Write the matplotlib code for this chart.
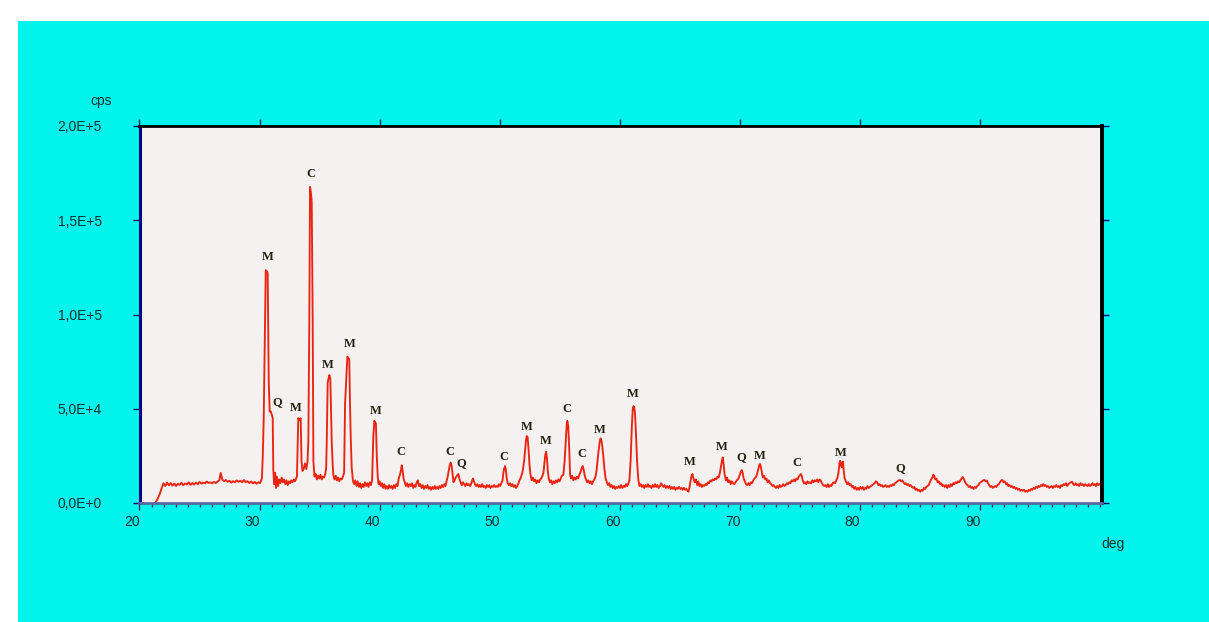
import matplotlib
matplotlib.use("Agg")
import matplotlib.pyplot as plt
from matplotlib.patches import Rectangle
from matplotlib.transforms import ScaledTranslation
import numpy as np

# diffractogram (2theta in deg, intensity in 1000 cps)
two_theta = [
    21.3, 21.5, 21.7, 21.85, 22.0, 22.15, 22.3, 22.45, 22.6, 22.75,
    22.9, 23.05, 23.2, 23.35, 23.5, 23.65, 23.8, 23.95, 24.1, 24.25,
    24.4, 24.55, 24.7, 24.85, 25.0, 25.15, 25.3, 25.45, 25.6, 25.75,
    25.9, 26.05, 26.2, 26.35, 26.5, 26.65, 26.77, 26.9, 27.05, 27.2,
    27.35, 27.5, 27.65, 27.8, 27.95, 28.1, 28.25, 28.4, 28.55, 28.7,
    28.85, 29.0, 29.15, 29.3, 29.45, 29.6, 29.75, 29.9, 30.05, 30.2,
    30.27, 30.35, 30.45, 30.52, 30.6, 30.68, 30.77, 30.85, 30.94, 31.02,
    31.1, 31.15, 31.22, 31.3, 31.38, 31.45, 31.55, 31.65, 31.75, 31.85,
    31.95, 32.05, 32.15, 32.25, 32.35, 32.45, 32.55, 32.65, 32.75, 32.85,
    32.95, 33.05, 33.12, 33.18, 33.23, 33.33, 33.43, 33.5, 33.58, 33.68,
    33.79, 33.9, 34.0, 34.07, 34.15, 34.21, 34.28, 34.35, 34.43, 34.49,
    34.58, 34.68, 34.78, 34.88, 34.98, 35.08, 35.18, 35.28, 35.38, 35.48,
    35.55, 35.6, 35.68, 35.75, 35.82, 35.9, 35.96, 36.02, 36.1, 36.15,
    36.25, 36.35, 36.45, 36.55, 36.65, 36.75, 36.85, 36.95, 37.05, 37.13,
    37.2, 37.27, 37.32, 37.4, 37.48, 37.54, 37.6, 37.68, 37.78, 37.88,
    37.98, 38.08, 38.18, 38.28, 38.38, 38.48, 38.58, 38.68, 38.78, 38.88,
    38.98, 39.08, 39.18, 39.28, 39.38, 39.48, 39.57, 39.63, 39.7, 39.77,
    39.85, 39.92, 40.0, 40.1, 40.2, 40.3, 40.4, 40.5, 40.6, 40.7,
    40.8, 40.9, 41.0, 41.1, 41.2, 41.3, 41.4, 41.5, 41.6, 41.7,
    41.78, 41.85, 41.92, 42.0, 42.1, 42.2, 42.3, 42.4, 42.5, 42.6,
    42.7, 42.8, 42.9, 43.0, 43.1, 43.2, 43.3, 43.4, 43.5, 43.6,
    43.7, 43.8, 43.9, 44.0, 44.1, 44.2, 44.3, 44.4, 44.5, 44.6,
    44.7, 44.8, 44.9, 45.0, 45.1, 45.2, 45.3, 45.4, 45.5, 45.6,
    45.68, 45.76, 45.85, 45.93, 46.0, 46.08, 46.16, 46.25, 46.35, 46.45,
    46.52, 46.57, 46.65, 46.75, 46.85, 46.95, 47.05, 47.15, 47.25, 47.35,
    47.45, 47.55, 47.65, 47.72, 47.79, 47.86, 47.95, 48.05, 48.15, 48.25,
    48.35, 48.45, 48.55, 48.65, 48.75, 48.85, 48.95, 49.05, 49.15, 49.25,
    49.35, 49.45, 49.55, 49.65, 49.75, 49.85, 49.95, 50.05, 50.15, 50.25,
    50.32, 50.38, 50.46, 50.52, 50.6, 50.68, 50.78, 50.88, 50.98, 51.08,
    51.18, 51.28, 51.38, 51.48, 51.58, 51.66, 51.74, 51.82, 51.9, 51.98,
    52.06, 52.14, 52.2, 52.27, 52.34, 52.42, 52.5, 52.58, 52.68, 52.78,
    52.88, 52.98, 53.08, 53.18, 53.28, 53.38, 53.48, 53.58, 53.66, 53.74,
    53.8, 53.88, 53.95, 54.02, 54.1, 54.2, 54.3, 54.4, 54.5, 54.6,
    54.7, 54.8, 54.9, 55.0, 55.1, 55.2, 55.32, 55.42, 55.52, 55.6,
    55.65, 55.72, 55.8, 55.88, 55.96, 56.05, 56.15, 56.25, 56.35, 56.45,
    56.55, 56.65, 56.75, 56.85, 56.93, 57.0, 57.1, 57.2, 57.3, 57.4,
    57.5, 57.6, 57.7, 57.8, 57.9, 58.0, 58.08, 58.16, 58.24, 58.32,
    58.38, 58.43, 58.5, 58.58, 58.66, 58.74, 58.84, 58.94, 59.04, 59.14,
    59.24, 59.34, 59.44, 59.54, 59.64, 59.74, 59.84, 59.94, 60.04, 60.14,
    60.24, 60.34, 60.44, 60.54, 60.64, 60.74, 60.82, 60.92, 61.02, 61.1,
    61.16, 61.21, 61.28, 61.36, 61.46, 61.57, 61.66, 61.76, 61.86, 61.96,
    62.06, 62.16, 62.26, 62.36, 62.46, 62.56, 62.66, 62.76, 62.86, 62.96,
    63.06, 63.16, 63.26, 63.36, 63.46, 63.56, 63.66, 63.76, 63.86, 63.96,
    64.06, 64.16, 64.26, 64.36, 64.46, 64.56, 64.66, 64.76, 64.86, 64.96,
    65.06, 65.16, 65.26, 65.36, 65.46, 65.56, 65.66, 65.74, 65.82, 65.9,
    65.98, 66.08, 66.16, 66.26, 66.36, 66.46, 66.56, 66.66, 66.76, 66.86,
    66.96, 67.06, 67.16, 67.26, 67.36, 67.46, 67.56, 67.66, 67.76, 67.86,
    67.96, 68.06, 68.16, 68.26, 68.36, 68.44, 68.52, 68.6, 68.68, 68.76,
    68.86, 68.96, 69.06, 69.16, 69.26, 69.36, 69.46, 69.56, 69.66, 69.76,
    69.86, 69.94, 70.02, 70.1, 70.18, 70.26, 70.34, 70.44, 70.54, 70.64,
    70.74, 70.84, 70.94, 71.04, 71.14, 71.24, 71.34, 71.44, 71.52, 71.6,
    71.66, 71.71, 71.78, 71.86, 71.94, 72.04, 72.14, 72.24, 72.34, 72.44,
    72.54, 72.64, 72.74, 72.84, 72.94, 73.04, 73.14, 73.24, 73.34, 73.44,
    73.54, 73.64, 73.74, 73.84, 73.94, 74.04, 74.14, 74.24, 74.34, 74.44,
    74.54, 74.64, 74.74, 74.84, 74.92, 75.0, 75.1, 75.18, 75.26, 75.36,
    75.46, 75.56, 75.66, 75.76, 75.86, 75.96, 76.06, 76.16, 76.26, 76.36,
    76.46, 76.56, 76.66, 76.76, 76.86, 76.96, 77.06, 77.16, 77.26, 77.36,
    77.46, 77.56, 77.66, 77.76, 77.86, 77.96, 78.06, 78.16, 78.24, 78.32,
    78.38, 78.44, 78.5, 78.56, 78.62, 78.68, 78.76, 78.86, 78.96, 79.06,
    79.16, 79.26, 79.36, 79.46, 79.56, 79.66, 79.76, 79.86, 79.96, 80.06,
    80.16, 80.26, 80.36, 80.46, 80.56, 80.66, 80.76, 80.86, 80.96, 81.06,
    81.16, 81.26, 81.36, 81.46, 81.56, 81.66, 81.76, 81.86, 81.96, 82.06,
    82.16, 82.26, 82.36, 82.46, 82.56, 82.66, 82.76, 82.86, 82.96, 83.06,
    83.16, 83.26, 83.36, 83.46, 83.56, 83.66, 83.76, 83.86, 83.96, 84.06,
    84.16, 84.26, 84.36, 84.46, 84.56, 84.66, 84.76, 84.86, 84.96, 85.06,
    85.16, 85.26, 85.36, 85.46, 85.56, 85.66, 85.76, 85.86, 85.96, 86.06,
    86.14, 86.22, 86.3, 86.4, 86.5, 86.6, 86.7, 86.8, 86.9, 87.0,
    87.1, 87.2, 87.3, 87.4, 87.5, 87.6, 87.7, 87.8, 87.9, 88.0,
    88.1, 88.2, 88.3, 88.4, 88.5, 88.6, 88.7, 88.8, 88.9, 89.0,
    89.1, 89.2, 89.3, 89.4, 89.5, 89.6, 89.7, 89.8, 89.9, 90.0,
    90.1, 90.2, 90.3, 90.4, 90.5, 90.6, 90.7, 90.8, 90.9, 91.0,
    91.1, 91.2, 91.3, 91.4, 91.5, 91.6, 91.7, 91.8, 91.9, 92.0,
    92.1, 92.2, 92.3, 92.4, 92.5, 92.6, 92.7, 92.8, 92.9, 93.0,
    93.1, 93.2, 93.3, 93.4, 93.5, 93.6, 93.7, 93.8, 93.9, 94.0,
    94.1, 94.2, 94.3, 94.4, 94.5, 94.6, 94.7, 94.8, 94.9, 95.0,
    95.1, 95.2, 95.3, 95.4, 95.5, 95.6, 95.7, 95.8, 95.9, 96.0,
    96.1, 96.2, 96.3, 96.4, 96.5, 96.6, 96.7, 96.8, 96.9, 97.0,
    97.1, 97.2, 97.3, 97.4, 97.5, 97.6, 97.7, 97.8, 97.9, 98.0,
    98.1, 98.2, 98.3, 98.4, 98.5, 98.6, 98.7, 98.8, 98.9, 99.0,
    99.1, 99.2, 99.3, 99.4, 99.5, 99.6, 99.7, 99.8, 99.9, 100.0,
]
kcps = [
    0, 2, 5, 8, 10.5, 9, 10.8, 9.4, 10.6, 9.2,
    10.4, 9.0, 10.2, 9.6, 10.8, 9.4, 10.4, 9.8, 11.0, 9.6,
    10.6, 9.8, 10.8, 10.0, 11.2, 10.2, 10.8, 10.4, 11.4, 10.6,
    11.0, 10.4, 11.2, 10.6, 11.4, 12.0, 16.0, 12.4, 11.6, 12.2,
    11.2, 11.8, 10.8, 11.6, 11.0, 12.0, 11.2, 11.8, 11.0, 12.2,
    11.0, 11.6, 10.6, 11.4, 10.4, 11.2, 10.2, 11.0, 10.6, 13.0,
    24.6, 45, 90, 123.5, 123, 122, 63.7, 48.5, 48.5, 47,
    45, 17.5, 10, 16, 8, 14, 9, 12.5, 10.5, 13.5,
    11, 12.5, 10, 12, 9.5, 11.5, 10.5, 12, 11, 12.5,
    11.5, 13, 14, 30, 45, 44, 45, 22, 17, 18,
    21, 18, 22, 33, 97, 167.7, 165, 160, 97, 22,
    14, 15.5, 12.5, 14.5, 13, 15, 12.5, 14, 13.5, 15.5,
    18, 31.8, 63.7, 66, 67.9, 66, 50, 31.8, 20, 14.9,
    12.5, 14.5, 12, 13.5, 11.5, 13, 12.5, 14, 16, 53,
    62, 72, 77.6, 77, 76, 53, 35, 19, 12, 10,
    12, 9, 11.5, 8.5, 10.5, 8, 10, 8.5, 11, 9,
    10.5, 8.5, 11, 9.5, 12, 35, 43.6, 43, 42, 25.5,
    14, 10, 11.5, 9, 10.5, 8, 10, 7.5, 9, 7.5,
    9.5, 8, 9, 7.5, 9.5, 8, 10, 9, 13, 15,
    17, 20, 17.5, 13, 11, 9, 10.5, 8.5, 10, 9,
    10.5, 8, 9.5, 8.5, 11, 12, 9, 10, 8, 9.5,
    7.5, 9, 8, 9.5, 7.5, 8.5, 7, 8.5, 7.5, 9,
    7.5, 8.5, 7.5, 9, 8, 9.5, 8.5, 10, 9, 12,
    14, 17, 20, 21.4, 20, 16, 11, 12, 13.5, 14.5,
    15, 15.4, 13, 11, 9.5, 11, 10, 9, 10.5, 9.5,
    10, 9, 10.5, 12, 13, 11.5, 10, 9, 10, 8.5,
    9.5, 8.5, 10, 8.5, 9, 8, 9.5, 8.5, 9.5, 8,
    9, 8.5, 9.5, 8.5, 9, 8.5, 10, 9, 10.5, 12,
    16, 18, 19.6, 18, 13, 10.5, 9.5, 10.5, 9, 10,
    8.5, 9.5, 8, 9, 10.5, 12, 13, 14.5, 16, 19,
    23, 29, 33, 35.5, 35, 28, 20, 15, 12, 13.5,
    11.5, 12.5, 10.5, 12, 11, 12.5, 13, 14.5, 16, 21,
    25, 27.2, 24, 17, 13, 11, 12, 10, 11.5, 10.5,
    12, 11, 12.5, 11.5, 13, 14.5, 15, 22, 33, 42,
    43.6, 41, 30, 15, 13, 14.5, 12, 13.5, 12.5, 14,
    13, 15, 16.5, 18.5, 19.6, 18, 14.5, 12.5, 11, 12,
    10.5, 11.5, 10, 11.5, 12.5, 14, 17, 22, 27, 31,
    33.5, 34.3, 33, 29, 24, 18, 13, 11, 9.5, 10.5,
    8.5, 9.5, 8, 9, 7.5, 8.5, 8, 9, 8, 9.5,
    8, 9, 8.5, 10, 9, 10.5, 12, 22, 40, 50,
    51.4, 51, 48, 38, 22, 12, 9, 10, 8.5, 9.5,
    8, 9.5, 8.5, 10, 8.5, 9, 8, 9.5, 8.5, 10,
    8.5, 9.5, 8, 9, 10.5, 9.5, 8.5, 9.5, 8, 9,
    8, 9, 7.5, 8.5, 7.5, 8.5, 7, 8, 7.5, 8.5,
    7.5, 8, 7, 8, 7, 7.5, 6.5, 6, 8, 11,
    14, 15.4, 13, 11, 12.5, 9.5, 11.5, 9, 10, 8.5,
    9.5, 9, 10, 9.5, 11, 10.5, 12, 11.5, 12.5, 12,
    13, 12.5, 14, 13.5, 16, 19, 22, 24.2, 20, 15,
    12, 13.5, 11, 12, 10, 11.5, 10.5, 10, 11, 12,
    12.5, 13.5, 15, 16.5, 17.5, 16, 13, 11.5, 10, 9.5,
    10.5, 9.5, 11, 10.5, 12, 13, 13.5, 15, 17, 19,
    20.5, 20.7, 19, 16, 13.5, 14.5, 12.5, 13, 11, 12,
    10.5, 10, 9, 9.5, 8.5, 8, 9, 8, 9.5, 8.5,
    9, 10, 9, 9.5, 10.5, 10, 11, 10.5, 12, 11.5,
    12.5, 11.5, 13, 12.5, 14, 14.5, 15.4, 14.5, 12, 10.5,
    11, 10, 11.5, 10.5, 11, 10.5, 12, 11, 12, 11.5,
    12.5, 11, 12.5, 12, 10.5, 9.5, 9, 9.5, 8.5, 10,
    8.5, 9.5, 9, 10.5, 11, 10.5, 12, 13.5, 16, 21,
    22.4, 21, 19, 21.5, 22, 17, 13, 11.5, 10, 11,
    9.5, 10, 8.5, 9, 7.5, 8.5, 7, 8, 7, 8.5,
    7.5, 8.5, 7, 8, 7.5, 9, 8, 8.5, 9, 9.5,
    10, 10.5, 11.5, 11, 9.5, 10, 9, 9.5, 8.5, 9,
    9.5, 8.5, 9, 8.5, 9.5, 9, 10, 9.5, 10.5, 11,
    11.5, 12, 12.2, 11.5, 12, 11, 10, 10.5, 9.5, 10,
    9, 9.5, 8.5, 8, 8.5, 7, 7.5, 6.5, 7, 6,
    7, 6.5, 8, 7.5, 8.5, 9, 9.5, 11, 12.5, 13.5,
    15, 14.5, 12.5, 13, 11, 11.5, 10, 10.5, 9, 9.5,
    8.5, 9.5, 8, 9.5, 8.5, 10, 9, 10.5, 10, 11,
    10.5, 11.5, 11, 12, 13, 13.8, 12.5, 11, 10, 9.5,
    8.5, 9, 8, 8.5, 7.5, 8.5, 8, 9, 9.5, 10.5,
    11, 11.5, 12, 12.2, 11.5, 12, 10.5, 9.5, 8.5, 9,
    8, 8.5, 9, 8.5, 9.5, 10, 11, 12, 12.2, 11,
    11.5, 10, 10.5, 9, 9.5, 8.5, 9, 8, 8.5, 7.5,
    8, 7, 7.5, 6.5, 7, 6.5, 7, 6, 6.5, 6,
    7, 6.5, 7.5, 7, 8, 7.5, 8.5, 8, 9, 8.5,
    9.5, 9, 10, 9, 9.5, 8.5, 9, 8, 8.5, 9,
    8, 9, 8.5, 9.5, 8.5, 9, 8, 9.5, 9, 10,
    9.5, 10.5, 9, 10, 10.5, 11, 11.3, 10, 9.5, 10.5,
    9.5, 10, 9, 10.5, 9.5, 10, 9, 10, 9.5, 9,
    10, 9, 9.5, 10.5, 9.5, 10, 9, 10.5, 9.5, 10,
]

# phase labels: M, C, Q with their positions (deg, kcps)
label_text = ['M', 'Q', 'M', 'C', 'M', 'M', 'M', 'C', 'C', 'Q', 'C', 'M',
              'M', 'C', 'C', 'M', 'M', 'M', 'M', 'Q', 'M', 'C', 'M', 'Q']
label_deg = [30.71, 31.46, 33.04, 34.29, 35.71, 37.54, 39.71, 41.79, 45.88,
             46.79, 50.38, 52.29, 53.88, 55.63, 56.88, 58.38, 61.13, 65.88,
             68.54, 70.13, 71.71, 74.79, 78.46, 83.38]
label_kcps = [130.5, 53.6, 50.4, 174.5, 73.2, 84.3, 48.8, 27.1, 27.1, 21.2,
              24.4, 40.3, 32.9, 49.9, 26.0, 38.7, 57.8, 21.8, 29.7, 24.4,
              24.9, 21.2, 26.5, 18.6]

y_ticks = [0, 50000, 100000, 150000, 200000]
y_tick_labels = ['0,0E+0', '5,0E+4', '1,0E+5', '1,5E+5', '2,0E+5']
x_ticks = [20, 30, 40, 50, 60, 70, 80, 90]

assert len(two_theta) == len(kcps)

cyan = '#02f4ec'
txt = '#1e2e2e'
plt.rcParams['font.family'] = ['Liberation Sans', 'DejaVu Sans']

fig = plt.figure(figsize=(12.09, 6.22), dpi=100)
fig.patch.set_facecolor('white')
# cyan panel, white strip on top and left
fig.patches.append(Rectangle((18 / 1209, 0), 1 - 18 / 1209, 601 / 622,
                             transform=fig.transFigure, facecolor=cyan,
                             edgecolor='none', zorder=-10))

ax = fig.add_axes([139.5 / 1209, 119 / 622, 962.5 / 1209, 377 / 622])
ax.set_zorder(5)
ax.set_facecolor('#f6f1f1')

ax.plot(two_theta, np.array(kcps) * 1000, color='#ea2410', lw=1.35)

for t, x, y in zip(label_text, label_deg, label_kcps):
    ax.text(x, y * 1000, t, ha='center', va='center', fontsize=9,
            fontweight='bold', family=['Liberation Serif', 'DejaVu Serif'],
            color='#22220e')

ax.set_xlim(20, 100.2)
ax.set_ylim(0, 200000)

ax.set_yticks(y_ticks)
ax.set_yticklabels(y_tick_labels)
ax.set_xticks(x_ticks)
ax.set_xticks(np.arange(21, 101), minor=True)

ax.tick_params(axis='y', which='major', direction='out', length=5, width=1,
               color='#000070', labelsize=10, labelcolor=txt, pad=22,
               left=True, right=True)
ax.tick_params(axis='x', which='major', direction='out', length=5, width=1,
               color='#303050', labelsize=10, labelcolor=txt, pad=4,
               bottom=True, top=True)
ax.tick_params(axis='x', which='minor', direction='out', length=3, width=1,
               color='#303050', bottom=True, top=False)

# tick labels sit a little left of their ticks
shift = ScaledTranslation(-7 / 100, 0, fig.dpi_scale_trans)
for lab in ax.get_xticklabels():
    lab.set_transform(lab.get_transform() + shift)

ax.spines['left'].set_color('#000080')
ax.spines['left'].set_linewidth(2.2)
ax.spines['top'].set_color('black')
ax.spines['top'].set_linewidth(2)
ax.spines['right'].set_color('black')
ax.spines['right'].set_linewidth(2.8)
ax.spines['bottom'].set_color('#5868a0')
ax.spines['bottom'].set_linewidth(2)

fig.text(101 / 1209, 1 - 101 / 622, 'cps', ha='center', va='center',
         fontsize=10, color=txt)
fig.text(1113 / 1209, 1 - 544 / 622, 'deg', ha='center', va='center',
         fontsize=10, color=txt)

fig.savefig('out.png', dpi=100, facecolor=fig.get_facecolor())
